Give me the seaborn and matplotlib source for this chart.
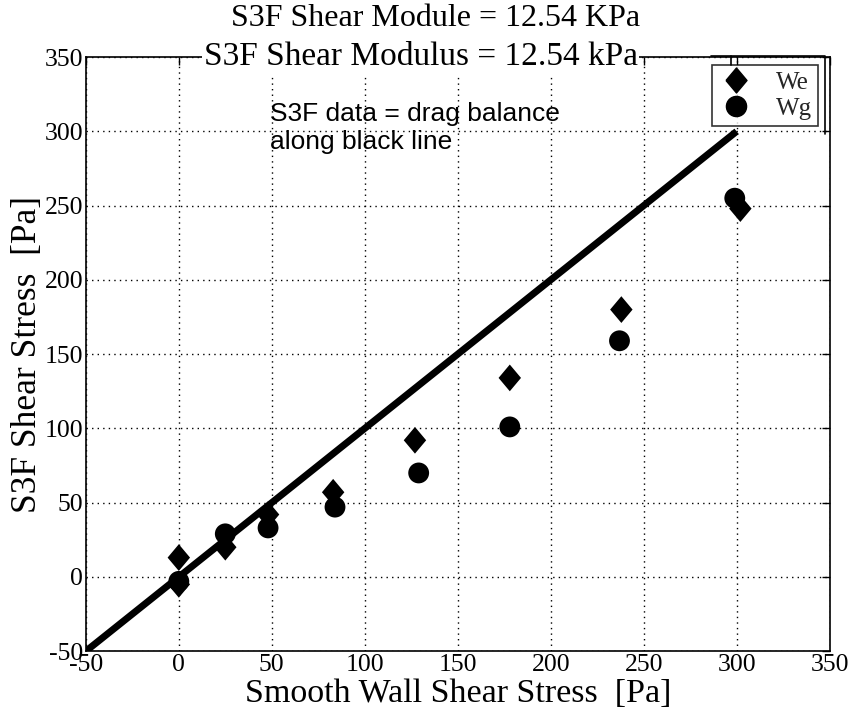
import matplotlib
matplotlib.use("Agg")
import matplotlib.pyplot as plt
import seaborn as sns
import pandas as pd
from matplotlib.lines import Line2D

we_x = [0, 0, 25, 48, 83, 127, 178, 238, 302]
we_y = [13, -5, 20, 42, 57, 92, 134, 180, 248]
wg_x = [0, 25, 48, 84, 129, 178, 237, 299]
wg_y = [-3, 29, 33, 47, 70, 101, 159, 255]
line_x = [-50, 300]
line_y = [-50, 300]
ticks = [-50, 0, 50, 100, 150, 200, 250, 300, 350]

df = pd.DataFrame({
    "x": we_x + wg_x,
    "y": we_y + wg_y,
    "series": ["We"] * len(we_x) + ["Wg"] * len(wg_x),
})

sns.set_theme(style="white")
plt.rcParams["font.family"] = ["Liberation Serif", "DejaVu Serif"]

diamond = [(-0.42, 0), (0, 0.5), (0.42, 0), (0, -0.5), (-0.42, 0)]

fig = plt.figure(figsize=(8.5, 7.14), dpi=100)
ax = fig.add_axes([0.101, 0.088, 0.875, 0.832])

ax.plot(line_x, line_y, color="black", lw=5, solid_capstyle="butt", zorder=2)
sns.scatterplot(data=df, x="x", y="y", style="series", size="series",
                markers={"We": diamond, "Wg": "o"},
                sizes={"We": 370, "Wg": 225},
                color="black", edgecolor="black", linewidth=0, ax=ax, zorder=3,
                legend=False)

ax.set_xlim(-50, 350)
ax.set_ylim(-50, 350)
ax.set_xticks(ticks)
ax.set_yticks(ticks)
ax.set_xticklabels([str(t) for t in ticks])
ax.set_yticklabels([str(t) for t in ticks])
ax.tick_params(direction="in", length=6, width=1, labelsize=18.5, colors="black",
               top=True, right=True, pad=2)
ax.grid(True, color="black", linestyle=(0, (1, 3)), linewidth=1)
for s in ax.spines.values():
    s.set_color("black")
    s.set_linewidth(1.2)

ax.set_xlabel("Smooth Wall Shear Stress  [Pa]", fontsize=24.5, color="black", labelpad=2)
ax.set_ylabel("S3F Shear Stress  [Pa]", fontsize=25.5, color="black", labelpad=0)

ax.text(0.45, 1.0, "S3F Shear Modulus = 12.54 kPa", transform=ax.transAxes,
        ha="center", va="center", fontsize=24, color="black",
        bbox=dict(facecolor="white", edgecolor="none", pad=1), zorder=5)
fig.text(0.512, 0.995, "S3F Shear Module = 12.54 KPa", ha="center", va="top",
         fontsize=23, color="black")

ax.text(49, 320, "S3F data = drag balance\nalong black line", fontsize=19,
        family=["Liberation Sans", "DejaVu Sans"], va="top", ha="left",
        linespacing=1.25, color="black")

handles = [Line2D([], [], marker=diamond, color="black", ls="none", markersize=18),
           Line2D([], [], marker="o", color="black", ls="none", markersize=14.5)]
leg = ax.legend(handles, ["We", "Wg"], loc="upper right", bbox_to_anchor=(0.985, 0.987),
                borderaxespad=0, fontsize=18, frameon=True, fancybox=False,
                edgecolor="black", handletextpad=0.9, borderpad=0.25,
                labelspacing=0.15, handlelength=1.4)
leg.get_frame().set_linewidth(1.2)

# outer legend frame (as in the original MATLAB export)
ax.plot([0.84, 0.994, 0.994], [1.002, 1.002, 0.87], transform=ax.transAxes,
        color="black", lw=1.2, clip_on=False, zorder=6)
ax.plot([0.867, 0.867], [1.002, 0.987], transform=ax.transAxes,
        color="black", lw=1.2, clip_on=False, zorder=6)

fig.savefig("out.png", dpi=100)
